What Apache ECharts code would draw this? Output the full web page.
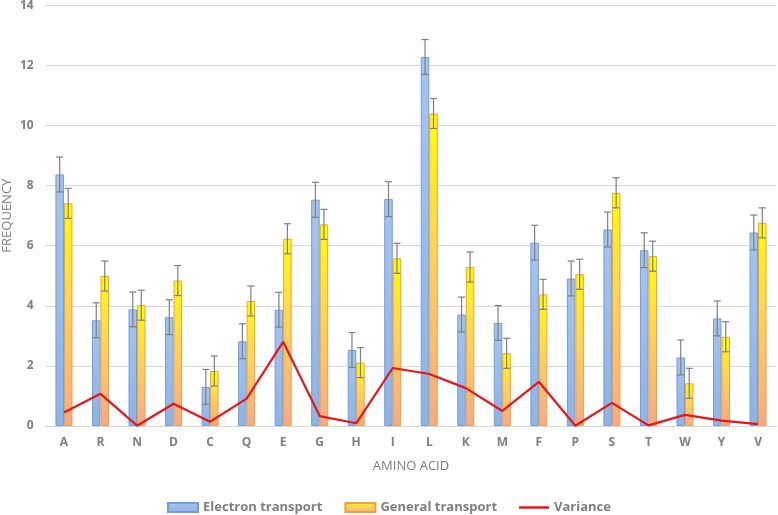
<!DOCTYPE html>
<html><head><meta charset="utf-8">
<script src="https://cdn.jsdelivr.net/npm/echarts@6/dist/echarts.min.js"></script>
<style>html,body{margin:0;padding:0;background:#fff}#c{width:778px;height:515px}</style>
</head><body><div id="c"></div>
<script>
var categories = ['A','R','N','D','C','Q','E','G','H','I','L','K','M','F','P','S','T','W','Y','V'];
var electron = [8.37,3.52,3.88,3.62,1.30,2.82,3.87,7.53,2.53,7.55,12.28,3.71,3.43,6.10,4.91,6.54,5.85,2.28,3.58,6.44];
var general  = [7.41,4.99,4.02,4.84,1.83,4.16,6.23,6.71,2.11,5.58,10.40,5.29,2.42,4.38,5.05,7.76,5.65,1.42,2.97,6.76];
var variance = [0.45,1.07,0.01,0.74,0.14,0.91,2.80,0.33,0.09,1.93,1.73,1.26,0.50,1.47,0.01,0.77,0.02,0.37,0.18,0.06];
var electronErr = [0.58,0.58,0.58,0.58,0.58,0.58,0.58,0.58,0.58,0.58,0.58,0.58,0.58,0.58,0.58,0.58,0.58,0.58,0.58,0.58];
var generalErr  = [0.50,0.50,0.50,0.50,0.50,0.50,0.50,0.50,0.50,0.50,0.50,0.50,0.50,0.50,0.50,0.50,0.50,0.50,0.50,0.50];
var yTicks = [0,2,4,6,8,10,12,14];

var BW = 8.5;
function errData(vals, errs){ return vals.map(function(v,i){ return [i, v-errs[i], v+errs[i]]; }); }
function errRender(offset){
  return function(params, api){
    var lo = api.coord([api.value(0), api.value(1)]);
    var hi = api.coord([api.value(0), api.value(2)]);
    var x = lo[0] + offset, cw = 3.5;
    var st = {stroke:'#7f7f7f', lineWidth:1.2};
    return {type:'group', children:[
      {type:'line', shape:{x1:x,y1:lo[1],x2:x,y2:hi[1]}, style:st},
      {type:'line', shape:{x1:x-cw,y1:hi[1],x2:x+cw,y2:hi[1]}, style:st},
      {type:'line', shape:{x1:x-cw,y1:lo[1],x2:x+cw,y2:lo[1]}, style:st}
    ]};
  };
}
var font = 'Open Sans';
var lineIcon = 'path://M0,0 L0.01,0 L0.01,0.01 Z M0,3.2 L30,3.2 L30,5.8 L0,5.8 Z M29.99,9 L30,9 L30,8.99 Z';
var chart = echarts.init(document.getElementById('c'));
chart.setOption({
  animation:false,
  textStyle:{fontFamily:font},
  grid:{left:45.7, right:1.7, top:5.3, bottom:89, containLabel:false, outerBoundsMode:'none'},
  legend:{
    bottom:-4, left:'center', itemWidth:30, itemHeight:9, itemGap:22,
    textStyle:{color:'#7f7f7f', fontWeight:'bold', fontSize:13, fontFamily:font},
    data:[
      {name:'Electron transport', icon:'rect'},
      {name:'General transport', icon:'rect'},
      {name:'Variance', icon:lineIcon, itemStyle:{color:'#e8161b'}}
    ]
  },
  xAxis:{
    type:'category', data:categories,
    name:'AMINO ACID', nameLocation:'middle', nameGap:34,
    nameTextStyle:{color:'#7f7f7f', fontSize:13, fontFamily:font},
    axisLine:{lineStyle:{color:'#d9d9d9', width:1}},
    axisTick:{show:false},
    axisLabel:{color:'#7f7f7f', fontWeight:'bold', fontSize:12, margin:11, fontFamily:font}
  },
  yAxis:{
    type:'value', min:yTicks[0], max:yTicks[yTicks.length-1], interval:2,
    name:'FREQUENCY', nameLocation:'middle', nameGap:32, nameRotate:90, nameMoveOverlap:false,
    nameTextStyle:{color:'#7f7f7f', fontSize:13, fontFamily:font},
    axisLine:{show:false}, axisTick:{show:false},
    splitLine:{lineStyle:{color:'#d9d9d9', width:1}},
    axisLabel:{color:'#7f7f7f', fontWeight:'bold', fontSize:12, margin:12, fontFamily:font}
  },
  series:[
    {name:'Electron transport', type:'bar', data:electron, barWidth:BW, barGap:'0%',
     itemStyle:{borderColor:'#6d9fdb', borderWidth:1,
       color:new echarts.graphic.LinearGradient(0,0,0,1,[{offset:0,color:'#a8c4ec'},{offset:1,color:'#8fb3e4'}])}},
    {name:'General transport', type:'bar', data:general, barWidth:BW,
     itemStyle:{borderColor:'#f0a040', borderWidth:1,
       color:new echarts.graphic.LinearGradient(0,0,0,1,[{offset:0,color:'#ffff00'},{offset:0.45,color:'#fdd45a'},{offset:1,color:'#f5a98a'}])}},
    {name:'eErr', type:'custom', data:errData(electron, electronErr), renderItem:errRender(-BW/2), z:5, silent:true,
     encode:{x:0, y:[1,2]}},
    {name:'gErr', type:'custom', data:errData(general, generalErr), renderItem:errRender(BW/2), z:5, silent:true,
     encode:{x:0, y:[1,2]}},
    {name:'Variance', type:'line', data:variance, symbol:'none', z:10,
     lineStyle:{color:'#e8161b', width:2.2}, itemStyle:{color:'#e8161b'}}
  ]
});
</script></body></html>
